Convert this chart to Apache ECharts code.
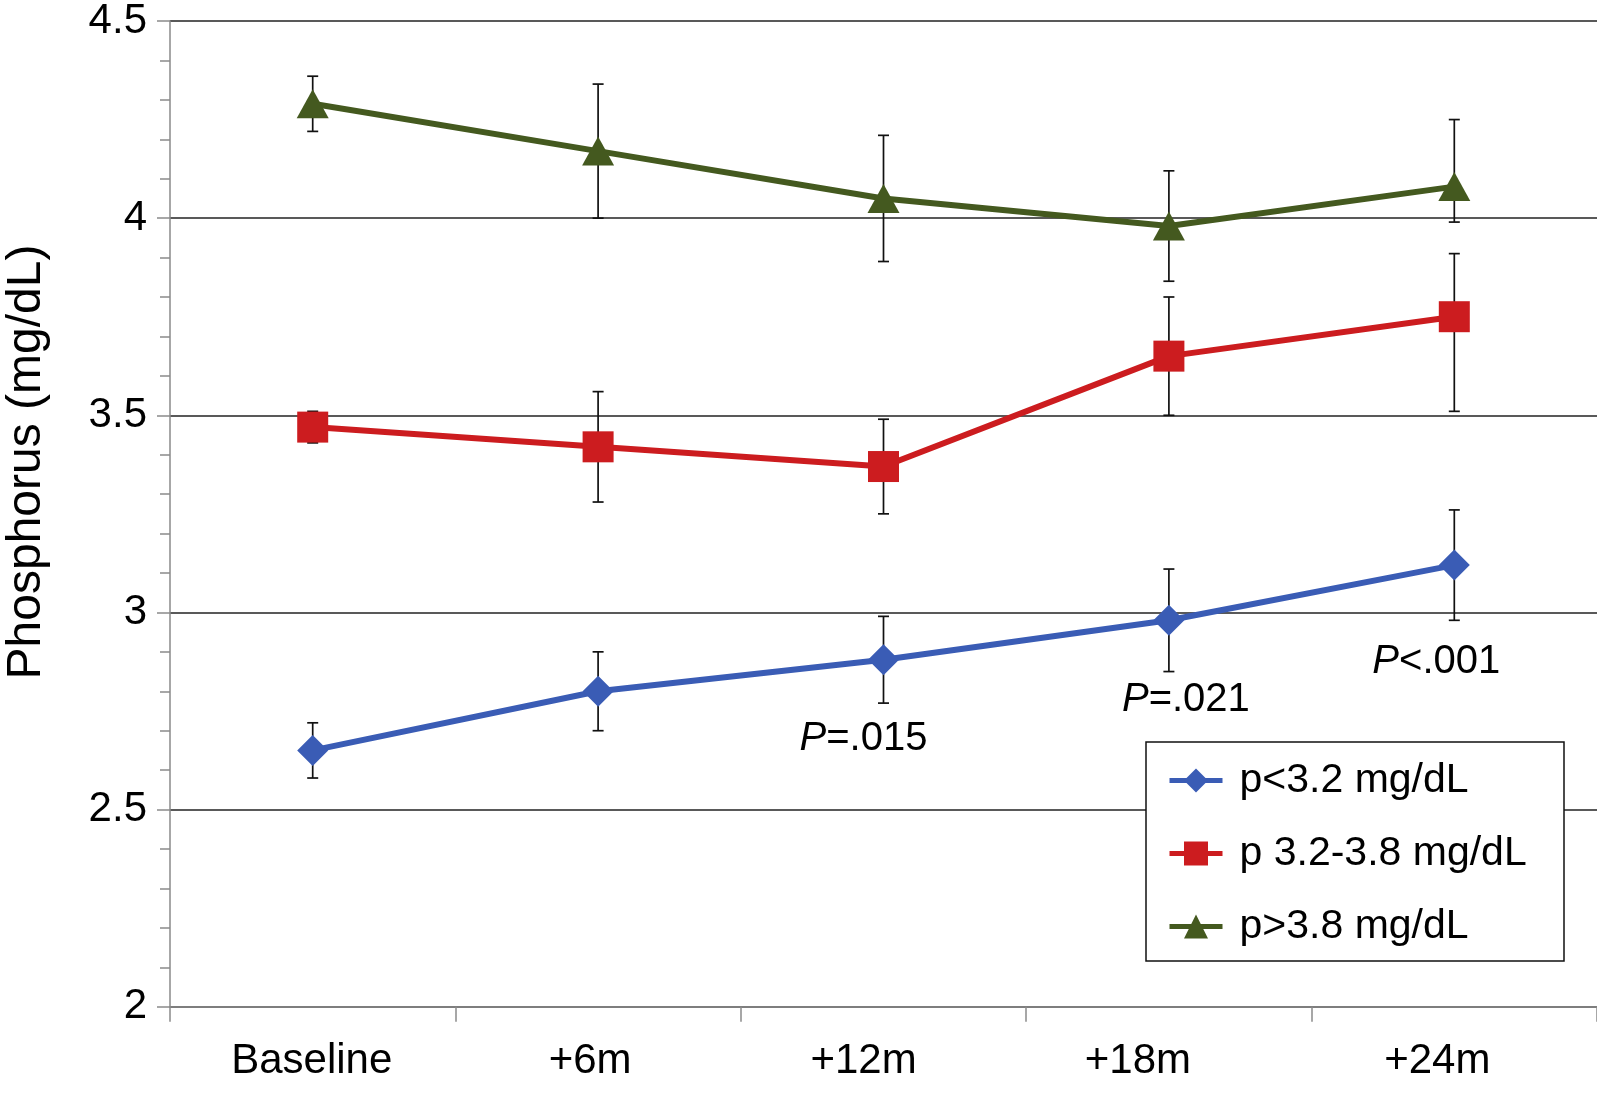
<!DOCTYPE html>
<html><head><meta charset="utf-8">
<script src="https://cdn.jsdelivr.net/npm/echarts@6/dist/echarts.min.js"></script>
<style>html,body{margin:0;padding:0;background:#fff}#c{width:1597px;height:1093px}</style>
</head><body><div id="c"></div>
<script>
const categories = ['Baseline', '+6m', '+12m', '+18m', '+24m'];
const seriesNames = ['p<3.2 mg/dL', 'p 3.2-3.8 mg/dL', 'p>3.8 mg/dL'];
const lowMean  = [2.65, 2.80, 2.88, 2.98, 3.12];
const lowLower = [2.58, 2.70, 2.77, 2.85, 2.98];
const lowUpper = [2.72, 2.90, 2.99, 3.11, 3.26];
const midMean  = [3.47, 3.42, 3.37, 3.65, 3.75];
const midLower = [3.43, 3.28, 3.25, 3.50, 3.51];
const midUpper = [3.51, 3.56, 3.49, 3.80, 3.91];
const highMean  = [4.29, 4.17, 4.05, 3.98, 4.08];
const highLower = [4.22, 4.00, 3.89, 3.84, 3.99];
const highUpper = [4.36, 4.34, 4.21, 4.12, 4.25];
const pCats   = ['+12m', '+18m', '+24m'];
const pValues = [2.684, 2.783, 2.879];
const pTexts  = ['=.015', '=.021', '<.001'];
const yMin = 2, yMax = 4.5, yStep = 0.5;

const colors = ['#3a5cb5', '#cc1c1f', '#44591f'];
const symbols = ['diamond', 'rect', 'triangle'];
const symbolSizes = [[31, 31], [31, 31], [32, 29]];
const means = [lowMean, midMean, highMean];
const lowers = [lowLower, midLower, highLower];
const uppers = [lowUpper, midUpper, highUpper];
const FONT = '"Liberation Sans", Arial, Helvetica, sans-serif';

// small shifts of x labels to match the reference
const labelShift = [1, 8, 20, 31, 17];
const xRich = {};
labelShift.forEach((s, i) => { xRich['c' + i] = { padding: [0, 2 * s, 0, 0] }; });

const pOffsets = [-20, 17, -18];

const chart = echarts.init(document.getElementById('c'), null, { renderer: 'canvas' });

const series = [];
[0, 1, 2].forEach(k => {
  series.push({
    type: 'custom',
    name: 'err' + k,
    z: 1,
    silent: true,
    data: categories.map((c, i) => [i, lowers[k][i], uppers[k][i]]),
    encode: { x: 0, y: [1, 2] },
    renderItem: function (params, api) {
      const lo = api.coord([api.value(0), api.value(1)]);
      const hi = api.coord([api.value(0), api.value(2)]);
      const x = lo[0], w = 5.5;
      const st = { stroke: '#111', lineWidth: 1.7 };
      return {
        type: 'group', children: [
          { type: 'line', shape: { x1: x, y1: lo[1], x2: x, y2: hi[1] }, style: st },
          { type: 'line', shape: { x1: x - w, y1: lo[1], x2: x + w, y2: lo[1] }, style: st },
          { type: 'line', shape: { x1: x - w, y1: hi[1], x2: x + w, y2: hi[1] }, style: st }
        ]
      };
    }
  });
});
[0, 1, 2].forEach(k => {
  const s = {
    type: 'line',
    name: seriesNames[k],
    data: means[k],
    z: 3,
    symbol: symbols[k],
    symbolSize: symbolSizes[k],
    showAllSymbol: true,
    lineStyle: { width: 6, color: colors[k] },
    itemStyle: { color: colors[k] },
    emphasis: { disabled: true }
  };
  if (k === 0) {
    s.markPoint = {
      silent: true,
      symbol: 'rect',
      symbolSize: 1,
      itemStyle: { color: 'rgba(0,0,0,0)' },
      data: pCats.map((c, i) => ({
        coord: [c, pValues[i]],
        label: {
          show: true, position: 'inside', offset: [pOffsets[i], 2],
          formatter: '{i|P}{n|' + pTexts[i] + '}',
          rich: {
            i: { fontStyle: 'italic', fontSize: 40, fontFamily: FONT, color: '#000' },
            n: { fontSize: 40, fontFamily: FONT, color: '#000' }
          }
        }
      }))
    };
  }
  series.push(s);
});

chart.setOption({
  backgroundColor: '#fff',
  animation: false,
  grid: { left: 170, right: 0, top: 18.7, bottom: 86.3, containLabel: false },
  xAxis: {
    type: 'category',
    data: categories,
    boundaryGap: true,
    axisLine: { show: true, lineStyle: { color: '#8a8a8a', width: 1.5 } },
    axisTick: { show: true, interval: 0, length: 15, lineStyle: { color: '#8a8a8a', width: 1.5 } },
    splitLine: { show: false },
    axisLabel: {
      interval: 0,
      fontSize: 42, color: '#000', fontFamily: FONT, margin: 34,
      formatter: function (v, i) { return '{c' + i + '|' + v + '}'; },
      rich: xRich
    },
    z: 5
  },
  yAxis: {
    type: 'value',
    min: yMin, max: yMax, interval: yStep,
    axisLine: { show: true, lineStyle: { color: '#8a8a8a', width: 1.5 } },
    axisTick: { show: true, length: 13, lineStyle: { color: '#8a8a8a', width: 1.5 } },
    minorTick: { show: true, splitNumber: 5, length: 10, lineStyle: { color: '#8a8a8a', width: 1.5 } },
    splitLine: { show: true, lineStyle: { color: '#222', width: 1.5 } },
    axisLabel: { fontSize: 42, color: '#000', fontFamily: FONT, margin: 23 }
  },
  legend: {
    orient: 'vertical',
    left: 1167, top: 760,
    padding: 0,
    itemWidth: 53, itemHeight: 30, itemGap: 32,
    selectedMode: false,
    z: 6,
    data: seriesNames,
    lineStyle: { width: 5 },
    textStyle: { fontSize: 41, color: '#000', fontFamily: FONT, lineHeight: 40, padding: [0, 0, 0, 12] }
  },
  graphic: [
    {
      type: 'rect', z: 4, silent: true,
      shape: { x: 1146, y: 742, width: 418, height: 219 },
      style: { fill: '#fff', stroke: '#111', lineWidth: 1.5 }
    },
    {
      type: 'text', x: 27, y: 462, rotation: Math.PI / 2, silent: true,
      style: { text: 'Phosphorus (mg/dL)', fontSize: 48, fontFamily: FONT, fill: '#000', align: 'center', verticalAlign: 'middle' }
    }
  ],
  series: series
});
</script></body></html>
